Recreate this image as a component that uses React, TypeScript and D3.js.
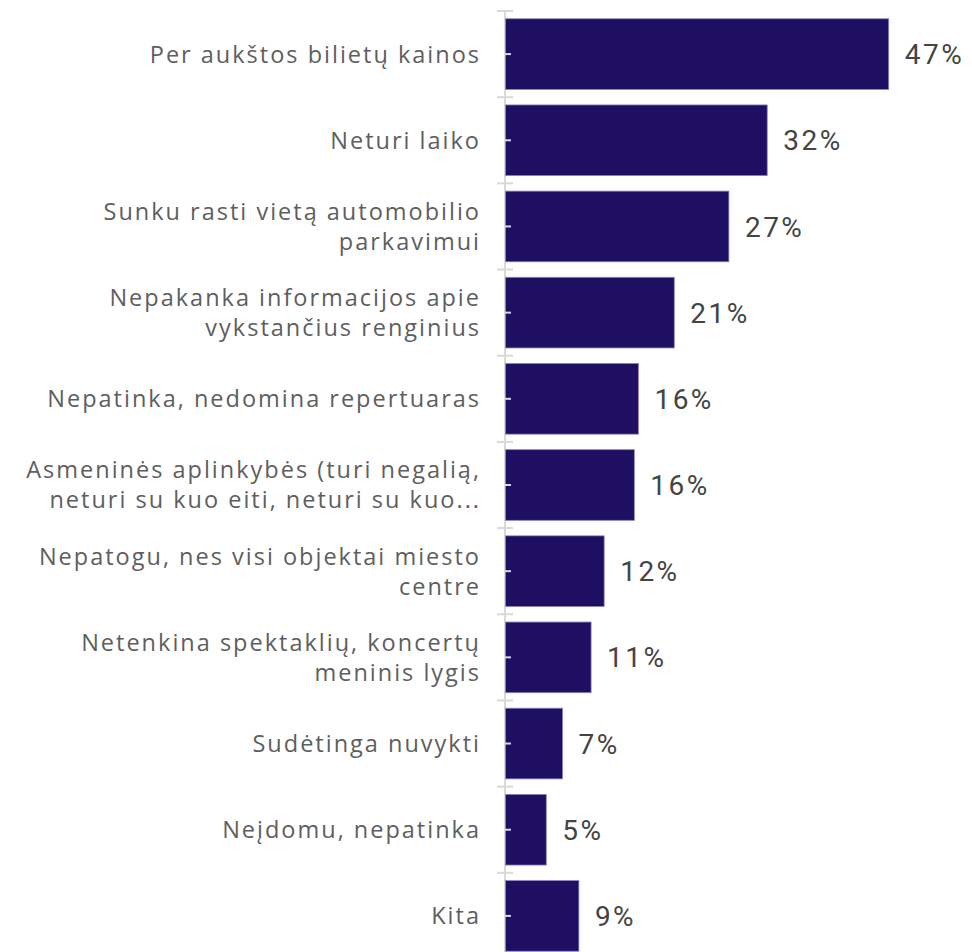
import React from "react";
import * as d3 from "d3";

const categories: string[] = [
  "Per aukštos bilietų kainos",
  "Neturi laiko",
  "Sunku rasti vietą automobilio\nparkavimui",
  "Nepakanka informacijos apie\nvykstančius renginius",
  "Nepatinka, nedomina repertuaras",
  "Asmeninės aplinkybės (turi negalią,\nneturi su kuo eiti, neturi su kuo...",
  "Nepatogu, nes visi objektai miesto\ncentre",
  "Netenkina spektaklių, koncertų\nmeninis lygis",
  "Sudėtinga nuvykti",
  "Neįdomu, nepatinka",
  "Kita",
];
const values: number[] = [47, 32.1, 27.4, 20.7, 16.3, 15.8, 12.1, 10.5, 7, 5, 9];
const valueLabels: string[] = ["47%", "32%", "27%", "21%", "16%", "16%", "12%", "11%", "7%", "5%", "9%"];

const W = 972;
const H = 952;
const X0 = 505.5;
const TOP = 11;
const BOTTOM = 959;
const CAT_SPACING = 2.0;

export default function App() {
  const x = d3.scaleLinear().domain([0, 47]).range([X0, 888.7]);
  const y = d3
    .scaleBand<number>()
    .domain(d3.range(categories.length))
    .range([TOP, BOTTOM])
    .paddingInner(0.18)
    .paddingOuter(0.09);
  const step = y.step();
  const bw = y.bandwidth();
  const lineH = 30;

  return (
    <svg
      width={W}
      height={H}
      style={{ position: "absolute", left: 0, top: 0, background: "#fff" }}
    >
      <line x1={505} x2={505} y1={TOP} y2={H} stroke="#d9d9d9" strokeWidth={2} />
      {d3.range(categories.length + 1).map((i) => (
        <line
          key={"b" + i}
          x1={497}
          x2={513}
          y1={TOP + i * step}
          y2={TOP + i * step}
          stroke="#d9d9d9"
          strokeWidth={2}
        />
      ))}
      {categories.map((c, i) => {
        const cy = (y(i) as number) + bw / 2;
        const lines = c.split("\n");
        return (
          <g key={i}>
            <rect
              x={X0}
              y={y(i)}
              width={x(values[i]) - X0}
              height={bw}
              fill="#1f0f63"
              stroke="#8c85c0"
              strokeWidth={0.8}
            />
            <line x1={505} x2={511} y1={cy} y2={cy} stroke="#d9d9d9" strokeWidth={2} />
            <text
              x={x(values[i]) + 16}
              y={cy}
              dy="0.36em"
              fill="#444"
              fontFamily="Roboto, sans-serif"
              fontSize={28}
              letterSpacing={2.5}
            >
              {valueLabels[i]}
            </text>
            <text
              textAnchor="end"
              fill="#5e5e5e"
              fontFamily="'Open Sans', sans-serif"
              fontSize={23.5}
              letterSpacing={CAT_SPACING}
            >
              {lines.map((l, j) => (
                <tspan
                  key={j}
                  x={479 + CAT_SPACING}
                  y={cy + (j - (lines.length - 1) / 2) * lineH}
                  dy="0.36em"
                >
                  {l}
                </tspan>
              ))}
            </text>
          </g>
        );
      })}
    </svg>
  );
}
